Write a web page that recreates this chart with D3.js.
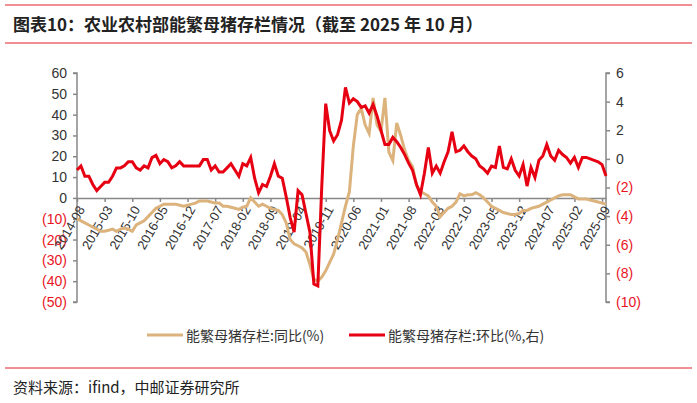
<!DOCTYPE html>
<html><head><meta charset="utf-8">
<script src="https://cdn.jsdelivr.net/npm/d3@7"></script>
<style>body{margin:0;background:#fff}svg{font-family:"Liberation Sans",Arial,sans-serif}</style>
</head><body><svg id="c" width="697" height="403"></svg>
<script>
const startYear = 2014, startMonth = 8, nMonths = 135;
const months = [];
for (let i = 0; i < nMonths; i++) { const t = startMonth - 1 + i; months.push(`${startYear + Math.floor(t/12)}-${String(t%12+1).padStart(2,"0")}`); }
const tickLabels = ["2014-08","2015-03","2015-10","2016-05","2016-12","2017-07","2018-02","2018-09","2019-04","2019-11","2020-06","2021-01","2021-08","2022-03","2022-10","2023-05","2023-12","2024-07","2025-02","2025-09"];
// YoY (%), left axis
const yoy = [-10,-11,-12,-13,-14,-15,-16,-16,-15.5,-15,-16,-15,-14.5,-15,-16,-13,-12,-11,-9,-7,-5,-4,-3,-3,-3,-3,-3.5,-4,-3.5,-3,-2.5,-1.5,-1.5,-1.5,-2,-2.5,-2.5,-4,-4,-4.5,-5,-5.5,-4.5,-4,0,-2,-4,-3,-4,-5,-5.5,-6,-8,-12,-20,-22,-23,-24,-26,-32,-39,-40,-38,-35,-31,-27,-20,-12,-4,3,25,40,43,35,31,48,35,32,48,22,18,36,30,23,18,15,6,3,2,1,-2,-4,-9,-7,-5,-4,-2,2,1,1.5,1.5,2.5,1.5,0,-2,-4,-5,-6,-7,-7.5,-8,-8,-7.5,-6,-6,-5,-4.5,-4,-3,-2,-1,0,1,1.5,1.5,1.5,0.5,-0.5,-0.5,-0.5,-1,-1.5,-2,-2.5,-3];
// MoM (%), right axis
const momLeftEq = [13,15,10,10,6,3,5,7,7,10,14,14,15,17,17,14,13,15,14,19,20,16,18,17,14,15,17,15,15,15,15,15,18,18,13,15,12,12,14,16,13,10,16,15,19,9,2,6,5,10,16,10,9,0,-10,-17,3,1,-8,-17,-42,-43,5,45,32,27,30,37];
const momLate = [5.0,3.9,4.2,4.0,3.6,3.7,3.2,3.8,3.0,2.0,1.0,1.0,1.5,1.2,0.8,0.3,-0.3,-0.8,-1.8,-2.5,-1.0,0.8,-1.0,-0.5,-1.0,-0.2,0.5,1.9,0.5,0.6,0.9,0.5,0.2,0,-0.5,-0.7,-1.0,-0.5,-0.6,0.9,-0.6,-0.7,0,-0.8,-1.2,-0.4,-1.9,-0.6,-1.3,-0.1,0.2,1.0,0.2,-0.1,0.6,0.3,0.1,-0.3,0.1,-0.6,0.1,0.1,0,-0.1,-0.2,-0.4,-1.2];
const mom = momLeftEq.map(L => +((2.07*L-38)/14.3).toFixed(2)).concat(momLate);
const leftTicks = [60,50,40,30,20,10,0,-10,-20,-30,-40,-50];
const rightTicks = [6,4,2,0,-2,-4,-6,-8,-10];

const svg = d3.select("#c");
const L = 77, R = 606, T = 73, B = 302;
const x = d3.scaleLinear().domain([0, nMonths-1]).range([L, R]);
const yl = d3.scaleLinear().domain([-50,60]).range([B,T]);
const yr = d3.scaleLinear().domain([-10,6]).range([B,T]);
const fmt = v => v < 0 ? `(${-v})` : `${v}`;

[5,43,368].forEach(y=>svg.append("line").attr("x1",5).attr("x2",692).attr("y1",y).attr("y2",y).attr("stroke","#e0202a").attr("stroke-width",1));
svg.append("text").attr("x",13).attr("y",31).attr("font-size",17).attr("font-weight","bold").attr("fill","#222")
  .attr("font-family","'Noto Sans CJK SC',sans-serif").text("图表10：农业农村部能繁母猪存栏情况（截至 2025 年 10 月）");
svg.append("text").attr("x",13).attr("y",393).attr("font-size",15).attr("fill","#222")
  .attr("font-family","'Noto Sans CJK SC',sans-serif").text("资料来源：ifind，中邮证券研究所");

const ax = "#888";
const gl = svg.append("g").attr("transform",`translate(${L},0)`).call(d3.axisLeft(yl).tickValues(leftTicks).tickFormat(fmt).tickSize(4).tickPadding(6));
gl.selectAll("path,line").attr("stroke",ax).attr("stroke-width",1.5);
gl.selectAll("text").attr("font-size",14).attr("fill",d=>d<0?"#e8141e":"#333");
const gr = svg.append("g").attr("transform",`translate(${R},0)`).call(d3.axisRight(yr).tickValues(rightTicks).tickFormat(fmt).tickSize(4).tickPadding(6));
gr.selectAll("path,line").attr("stroke",ax).attr("stroke-width",1.5);
gr.selectAll("text").attr("font-size",14).attr("fill",d=>d<0?"#e8141e":"#333");
gl.select(".domain").attr("d",`M-4,${T}H0V${B}H-4`);
gr.select(".domain").attr("d",`M4,${T}H0V${B}H4`);

const tickIdx = tickLabels.map(t=>months.indexOf(t));
const gx = svg.append("g").attr("transform",`translate(0,${yl(0)})`)
  .call(d3.axisBottom(x).tickValues(tickIdx).tickFormat(i=>months[i]).tickSize(4).tickSizeOuter(0));
gx.selectAll("path,line").attr("stroke",ax).attr("stroke-width",1.5);
gx.selectAll("text").attr("font-size",13).attr("fill","#333").attr("text-anchor","end")
  .attr("dy","0.35em").attr("transform","translate(4,9) rotate(-60)").attr("x",0).attr("y",0);

const line = y => d3.line().x((d,i)=>x(i)).y(d=>y(d));
svg.append("path").datum(yoy).attr("d",line(yl)).attr("fill","none").attr("stroke","#dcb37c").attr("stroke-width",3);
svg.append("path").datum(mom).attr("d",line(yr)).attr("fill","none").attr("stroke","#e60012").attr("stroke-width",3);

const lg = svg.append("g").attr("font-size",14).attr("fill","#333");
lg.append("line").attr("x1",147).attr("x2",183).attr("y1",335).attr("y2",335).attr("stroke","#dcb37c").attr("stroke-width",3);
lg.append("text").attr("x",186).attr("y",341).attr("font-family","'Noto Sans CJK SC',sans-serif").text("能繁母猪存栏:同比(%)");
lg.append("line").attr("x1",349).attr("x2",385).attr("y1",335).attr("y2",335).attr("stroke","#e60012").attr("stroke-width",3);
lg.append("text").attr("x",388).attr("y",341).attr("font-family","'Noto Sans CJK SC',sans-serif").text("能繁母猪存栏:环比(%,右)");
</script></body></html>
